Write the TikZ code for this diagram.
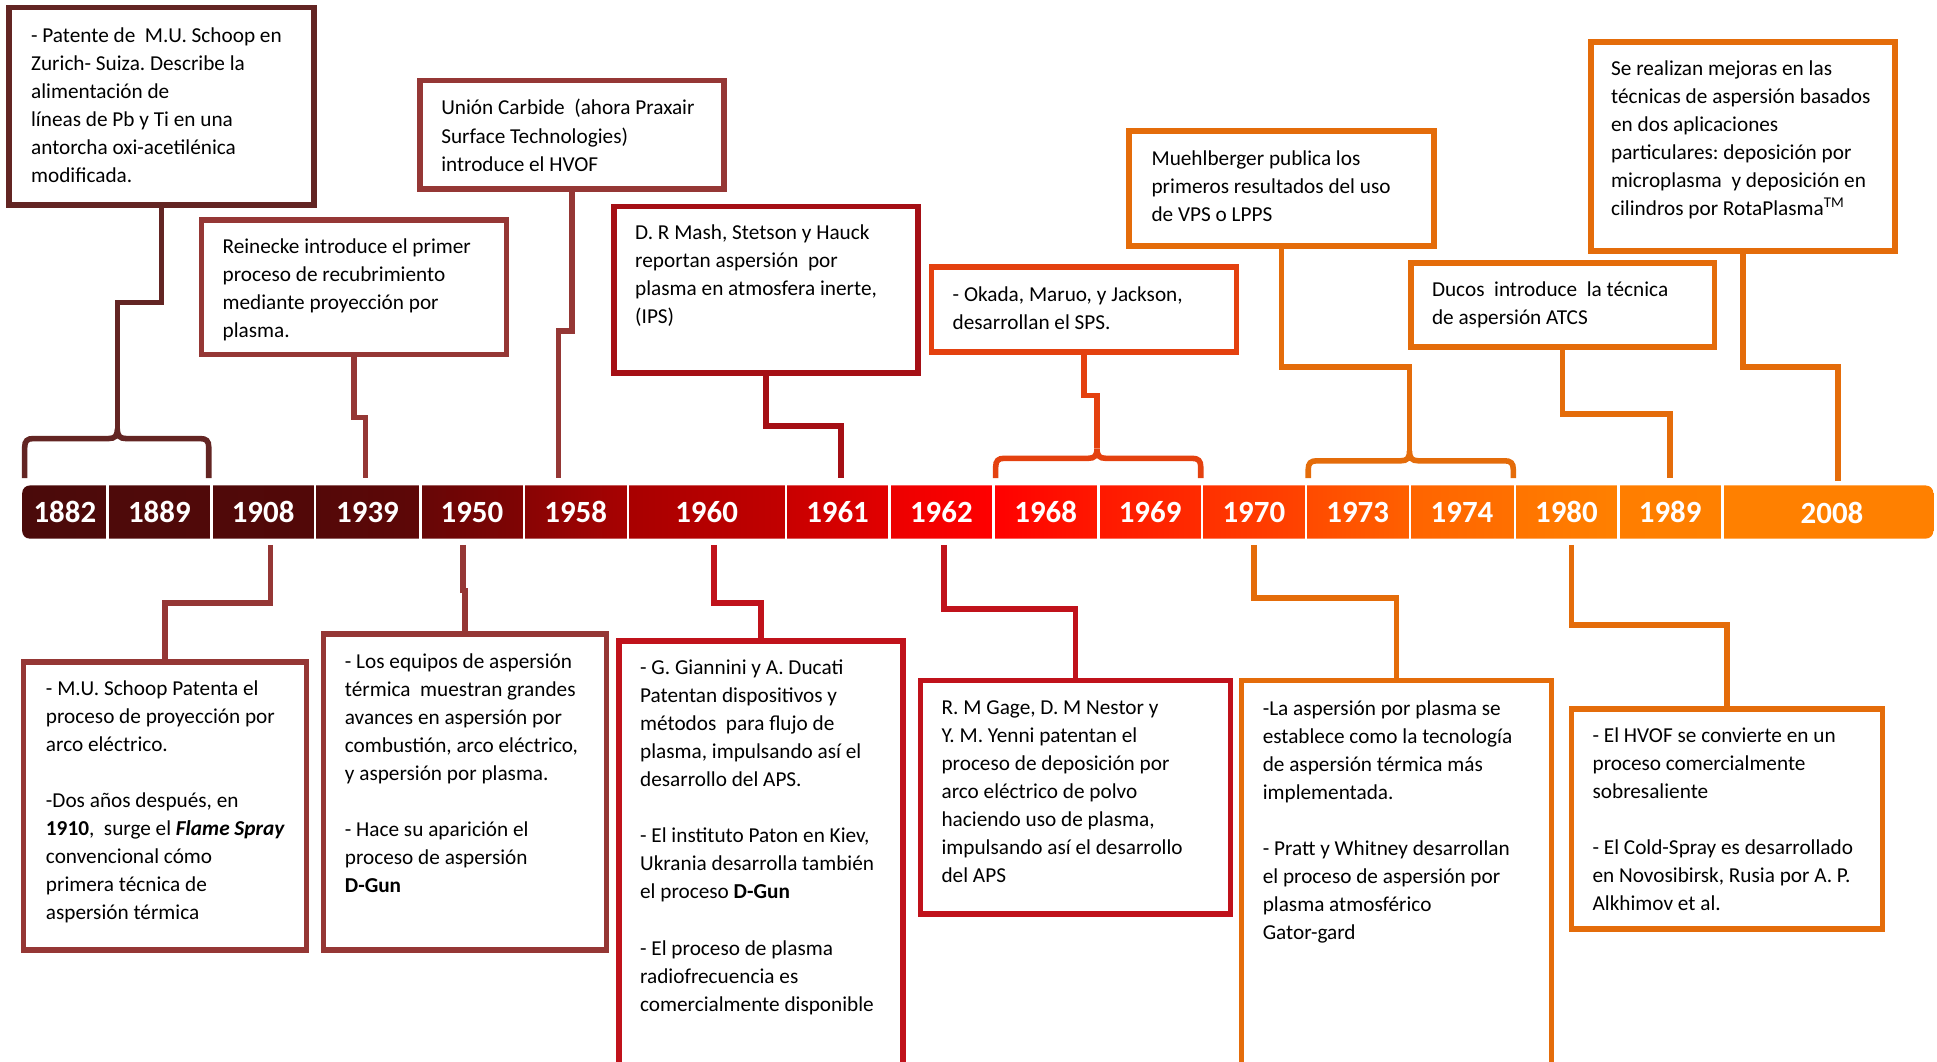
\documentclass[tikz,border=0pt]{standalone}
\usepackage{fontspec}
\setmainfont{Carlito}
\frenchspacing
\definecolor{cMaroonD}{HTML}{632523}
\definecolor{cMaroon}{HTML}{953735}
\definecolor{cRedD}{HTML}{A50F15}
\definecolor{cRed}{HTML}{C0121B}
\definecolor{cOrRed}{HTML}{E4410F}
\definecolor{cOrange}{HTML}{E46C0A}
\newcommand\tlbox[6]{%
  \pgfmathsetmacro\tlbW{#5-#3}\pgfmathsetmacro\tlbH{#6-#4}%
  \node[tbox=#2, minimum width=\tlbW pt, minimum height=\tlbH pt] (#1) at ({(#3+#5)/2},{(#4+#6)/2}) {};}
\newcommand\tlbrace[6]{% color, x1, xm, x2, ytop, ybot
  \draw[conn=#1] (#2,#6) -- (#2,#5+7) .. controls (#2,#5+2) and (#2+2,#5) .. (#2+7,#5)
   -- (#3-7,#5) .. controls (#3-2,#5) and (#3,#5-2) .. (#3,#5-8)
   .. controls (#3,#5-2) and (#3+2,#5) .. (#3+7,#5)
   -- (#4-7,#5) .. controls (#4-2,#5) and (#4,#5+2) .. (#4,#5+7) -- (#4,#6);}
\begin{document}
\begin{tikzpicture}[x=1pt,y=-1pt,
  tbox/.style={draw=#1, line width=4.5pt, inner sep=0pt, fill=white},
  conn/.style={draw=#1, line width=4.5pt},
  txt/.style={anchor=north west, inner sep=0pt, align=left, text=black, font=\fontsize{17.2}{22.7}\selectfont},
  yearseg/.style={inner sep=0pt, minimum height=43pt, text=white, font=\fontsize{25}{25}\selectfont\bfseries}]
\useasboundingbox (0,0) rectangle (1568,859);
\clip (0,0) rectangle (1568,859);

% ---------- timeline bar ----------
\begin{scope}
\clip[rounded corners=6pt] (18,393) rectangle (1565,436);
\node[yearseg, minimum width=69pt, left color={rgb,255:red,74;green,10;blue,10}, right color={rgb,255:red,78;green,10;blue,10}] (y1882) at (52.5,414.5) {1882};
\node[yearseg, minimum width=84pt, left color={rgb,255:red,78;green,10;blue,10}, right color={rgb,255:red,80;green,9;blue,9}] (y1889) at (129,414.5) {1889};
\node[yearseg, minimum width=84pt, left color={rgb,255:red,80;green,9;blue,9}, right color={rgb,255:red,82;green,8;blue,8}] (y1908) at (213,414.5) {1908};
\node[yearseg, minimum width=85pt, left color={rgb,255:red,84;green,8;blue,8}, right color={rgb,255:red,94;green,7;blue,7}] (y1939) at (297.5,414.5) {1939};
\node[yearseg, minimum width=84pt, left color={rgb,255:red,102;green,6;blue,6}, right color={rgb,255:red,128;green,4;blue,4}] (y1950) at (382,414.5) {1950};
\node[yearseg, minimum width=84pt, left color={rgb,255:red,136;green,4;blue,4}, right color={rgb,255:red,168;green,2;blue,2}] (y1958) at (466,414.5) {1958};
\node[yearseg, minimum width=128pt, left color={rgb,255:red,168;green,0;blue,0}, right color={rgb,255:red,194;green,0;blue,0}] (y1960) at (572,414.5) {1960};
\node[yearseg, minimum width=84pt, left color={rgb,255:red,200;green,0;blue,0}, right color={rgb,255:red,226;green,0;blue,0}] (y1961) at (678,414.5) {1961};
\node[yearseg, minimum width=84pt, left color={rgb,255:red,236;green,0;blue,0}, right color={rgb,255:red,255;green,0;blue,0}] (y1962) at (762,414.5) {1962};
\node[yearseg, minimum width=85pt, left color={rgb,255:red,255;green,0;blue,0}, right color={rgb,255:red,255;green,24;blue,0}] (y1968) at (846.5,414.5) {1968};
\node[yearseg, minimum width=84pt, left color={rgb,255:red,255;green,24;blue,0}, right color={rgb,255:red,255;green,44;blue,0}] (y1969) at (931,414.5) {1969};
\node[yearseg, minimum width=84pt, left color={rgb,255:red,255;green,48;blue,0}, right color={rgb,255:red,255;green,68;blue,0}] (y1970) at (1015,414.5) {1970};
\node[yearseg, minimum width=84pt, left color={rgb,255:red,255;green,74;blue,0}, right color={rgb,255:red,255;green,96;blue,0}] (y1973) at (1099,414.5) {1973};
\node[yearseg, minimum width=85pt, left color={rgb,255:red,255;green,100;blue,0}, right color={rgb,255:red,255;green,112;blue,0}] (y1974) at (1183.5,414.5) {1974};
\node[yearseg, minimum width=84pt, left color={rgb,255:red,255;green,116;blue,0}, right color={rgb,255:red,255;green,128;blue,0}] (y1980) at (1268,414.5) {1980};
\node[yearseg, minimum width=84pt, left color={rgb,255:red,255;green,126;blue,0}, right color={rgb,255:red,255;green,128;blue,0}] (y1989) at (1352,414.5) {1989};
\node[yearseg, minimum width=171pt, left color={rgb,255:red,255;green,128;blue,0}, right color={rgb,255:red,255;green,128;blue,0}] (y2008) at (1479.5,414.5) {};
\node[inner sep=0pt, text=white, font=\fontsize{25}{25}\selectfont\bfseries] (l2008) at (1483,415.5) {2008};
\end{scope}
\foreach \n in {1882,1889,1908,1939,1950,1958,1960,1961,1962,1968,1969,1970,1973,1974,1980,1989}
  \draw[white, line width=2pt] (y\n.north east) -- (y\n.south east);

% ---------- boxes ----------
\tlbox{b1}{cMaroonD}{7.5}{6}{254}{166}
\tlbox{b2}{cMaroon}{163}{178}{410}{287}
\tlbox{b3}{cMaroon}{340}{65}{586}{153}
\tlbox{b4}{cRedD}{497}{167}{743}{302}
\tlbox{b5}{cOrRed}{754}{216}{1001}{285}
\tlbox{b6}{cOrange}{914}{106}{1161}{199}
\tlbox{b7}{cOrange}{1142}{213}{1388}{281}
\tlbox{b8}{cOrange}{1288}{34}{1534}{203}
\tlbox{b9}{cMaroon}{19}{536}{248}{769}
\tlbox{b10}{cMaroon}{262}{513}{491}{769}
\tlbox{b11}{cRed}{501}{519}{731}{880}
\tlbox{b12}{cRed}{745}{551}{996}{740}
\tlbox{b13}{cOrange}{1005}{551}{1256}{880}
\tlbox{b14}{cOrange}{1272}{574}{1524}{752}

% ---------- connector end points ----------
\coordinate (kA) at (95,347);
\coordinate (kB) at (888,363);
\coordinate (kC) at (1141,365);
\coordinate (e1939) at (296,387);
\coordinate (e1958) at (452,387);
\coordinate (e1961) at (681,387);
\coordinate (e1989) at (1352,387);
\coordinate (e2008) at (1488,389);
\coordinate (s1908) at (219,441);
\coordinate (s1950) at (375,441);
\coordinate (s1960) at (578,441);
\coordinate (s1962) at (764,441);
\coordinate (s1970) at (1015,441);
\coordinate (s1980) at (1272,441);

% ---------- braces ----------
\tlbrace{cMaroonD}{20}{95}{169}{355}{387}
\tlbrace{cOrRed}{806}{888}{972}{371}{387}
\tlbrace{cOrange}{1059}{1141}{1225}{373}{387}

% ---------- connectors (top) ----------
\draw[conn=cMaroonD] (b1.south) |- (kA |- 0,245) -- (kA);
\draw[conn=cMaroon] (b2.south) |- (e1939 |- 0,338) -- (e1939);
\draw[conn=cMaroon] (b3.south) |- (e1958 |- 0,268) -- (e1958);
\draw[conn=cRedD] (b4.south) |- (e1961 |- 0,345) -- (e1961);
\draw[conn=cOrRed] (b5.south) |- (kB |- 0,320) -- (kB);
\draw[conn=cOrange] (b6.south) |- (kC |- 0,297) -- (kC);
\draw[conn=cOrange] (b7.south) |- (e1989 |- 0,335) -- (e1989);
\draw[conn=cOrange] (b8.south) |- (e2008 |- 0,297) -- (e2008);
% ---------- connectors (bottom) ----------
\draw[conn=cMaroon] (s1908) |- (b9.north |- 0,488) -- (b9.north);
\draw[conn=cMaroon] (s1950) |- (b10.north |- 0,478) -- (b10.north);
\draw[conn=cRed] (s1960) |- (b11.north |- 0,488) -- (b11.north);
\draw[conn=cRed] (s1962) |- (b12.north |- 0,493) -- (b12.north);
\draw[conn=cOrange] (s1970) |- (b13.north |- 0,484) -- (b13.north);
\draw[conn=cOrange] (s1980) |- (b14.north |- 0,506) -- (b14.north);

% ---------- texts ----------
\node[txt] (t1) at (25,18) {\strut - Patente de\ \ M.U. Schoop en\\
Zurich- Suiza. Describe la\\
alimentación de\\
líneas de Pb y Ti en una\\
antorcha oxi-acetilénica\\
modificada.};
\node[txt] (t2) at (180,189) {\strut Reinecke introduce el primer\\
proceso de recubrimiento\\
mediante proyección por\\
plasma.};
\node[txt] (t3) at (357,77) {\strut Unión Carbide\ \ (ahora Praxair\\
Surface Technologies)\\
introduce el HVOF};
\node[txt] (t4) at (514,178) {\strut D. R Mash, Stetson y Hauck\\
reportan aspersión\ \ por\\
plasma en atmosfera inerte,\\
(IPS)};
\node[txt] (t5) at (771,228) {\strut - Okada, Maruo, y Jackson,\\
desarrollan el SPS.};
\node[txt] (t6) at (932,118) {\strut Muehlberger publica los\\
primeros resultados del uso\\
de VPS o LPPS};
\node[txt] (t7) at (1159,224) {\strut Ducos\ \ introduce\ \ la técnica\\
de aspersión ATCS};
\node[txt] (t8) at (1304,45) {\strut Se realizan mejoras en las\\
técnicas de aspersión basados\\
en dos aplicaciones\\
particulares: deposición por\\
microplasma\ \ y deposición en\\
cilindros por RotaPlasma\textsuperscript{TM}};
\node[txt] (t9) at (37,547) {\strut - M.U. Schoop Patenta el\\
proceso de proyección por\\
arco eléctrico.\\[22.7pt]
-Dos años después, en\\
\textbf{1910},\ \ surge el \textbf{\textit{Flame Spray}}\\
convencional cómo\\
primera técnica de\\
aspersión térmica};
\node[txt] (t10) at (279,525) {\strut - Los equipos de aspersión\\
térmica\ \ muestran grandes\\
avances en aspersión por\\
combustión, arco eléctrico,\\
y aspersión por plasma.\\[22.7pt]
- Hace su aparición el\\
proceso de aspersión\\
\textbf{D-Gun}};
\node[txt] (t11) at (518,530) {\strut - G. Giannini y A. Ducati\\
Patentan dispositivos y\\
métodos\ \ para flujo de\\
plasma, impulsando así el\\
desarrollo del APS.\\[22.7pt]
- El instituto Paton en Kiev,\\
Ukrania desarrolla también\\
el proceso \textbf{D-Gun}\\[22.7pt]
- El proceso de plasma\\
radiofrecuencia es\\
comercialmente disponible};
\node[txt] (t12) at (762,562) {\strut R. M Gage, D. M Nestor y\\
Y. M. Yenni patentan el\\
proceso de deposición por\\
arco eléctrico de polvo\\
haciendo uso de plasma,\\
impulsando así el desarrollo\\
del APS};
\node[txt] (t13) at (1022,563) {\strut -La aspersión por plasma se\\
establece como la tecnología\\
de aspersión térmica más\\
implementada.\\[22.7pt]
- Pratt y Whitney desarrollan\\
el proceso de aspersión por\\
plasma atmosférico\\
Gator-gard};
\node[txt] (t14) at (1289,585) {\strut - El HVOF se convierte en un\\
proceso comercialmente\\
sobresaliente\\[22.7pt]
- El Cold-Spray es desarrollado\\
en Novosibirsk, Rusia por A. P.\\
Alkhimov et al.};
\end{tikzpicture}
\end{document}
